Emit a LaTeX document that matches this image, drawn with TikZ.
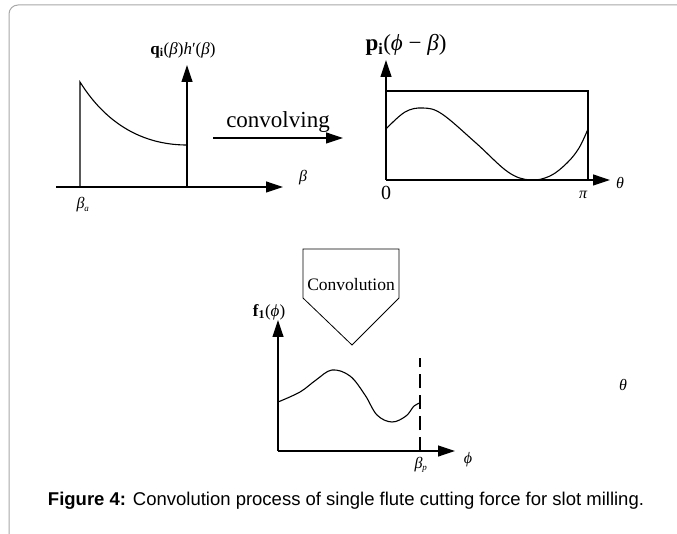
\documentclass[tikz,border=0pt]{standalone}
\usepackage{fontspec}
\setmainfont{Liberation Serif}
\newfontfamily\capfont{Liberation Sans}
\usetikzlibrary{arrows.meta,positioning,calc}
\definecolor{framegray}{HTML}{A8A8A8}

\tikzset{
  axisline/.style={line width=1.2pt,-{Triangle[length=17pt,width=11pt]}},
  curveline/.style={line width=1.1pt},
  symlabel/.style={font=\fontsize{16}{16}\selectfont\itshape,inner sep=0pt},
  funclabel/.style={font=\fontsize{17}{17}\selectfont,inner sep=0pt},
}
\newcommand{\gk}[1]{\textit{#1}}

\begin{document}
\begin{tikzpicture}[x=1pt,y=-1pt]
  \useasboundingbox (0,0) rectangle (677,534);
  % frame
  \begin{scope}
    \clip (0,0) rectangle (677,534);
    \draw[framegray,line width=1pt,rounded corners=9pt] (9,5) rectangle (700,560);
  \end{scope}

  % first panel: q_i h'
  \coordinate (qO) at (56,187);
  \coordinate (qX) at (283,187);
  \coordinate (qA) at (80,187);
  \coordinate (qB) at (187,187);
  \coordinate (qY) at (187,65);
  \draw[axisline] (qO) -- (qX);
  \draw[axisline] (qB) -- (qY);
  \draw[curveline] (qA) -- (80,82) .. controls (110,130) and (150,145) .. (187,145);
  \node[funclabel] (qlab) at (183,50) {\textbf{q}\textsubscript{\textbf{i}}(\gk{β})\gk{h}′(\gk{β})};
  \node[symlabel] (beta) at (303,178) {β};
  \node[symlabel] (betaa) at (83,205) {β\textsubscript{\fontsize{9}{9}\selectfont a}};

  % convolving arrow
  \coordinate (cvL) at (213,138);
  \coordinate (cvR) at (343,138);
  \draw[axisline] (cvL) -- (cvR);
  \node[font=\fontsize{23}{23}\selectfont,above=5pt of $(cvL)!0.5!(cvR)$,inner sep=0pt] (cvtext) {convolving};

  % second panel: p_i
  \coordinate (pO) at (386,180);
  \coordinate (pX) at (610,180);
  \coordinate (pY) at (386,60);
  \draw[line width=1.2pt] (386,91) -- (588,91) -- (588,180);
  \draw[axisline] (pO) -- (pX);
  \draw[axisline] (pO) -- (pY);
  \draw[curveline] plot[smooth,tension=0.6] coordinates
    {(386,129) (405,112) (423,108) (442,114) (476,143) (508,172) (530,180) (550,176) (567,163) (579,148) (588,129)};
  \node[font=\fontsize{23}{23}\selectfont,inner sep=0pt] (plab) at (406,45)
    {\textbf{p}\textsubscript{\textbf{i}}(\gk{ϕ} − \gk{β})};
  \node[font=\fontsize{20}{20}\selectfont,inner sep=0pt] (zero) at (386,193) {0};
  \node[symlabel] (pi) at (583,195) {π};
  \node[symlabel] (theta) at (620,183) {θ};

  % convolution block
  \draw[line width=0.8pt] (303,249) -- (399,249) -- (399,298) -- (352,345) -- (303,298) -- cycle;
  \node[font=\fontsize{17.5}{17.5}\selectfont,inner sep=0pt] (conv) at (351,285) {Convolution};

  % third panel: f_1
  \coordinate (fO) at (278,451);
  \coordinate (fX) at (455,451);
  \coordinate (fY) at (278,320);
  \coordinate (fP) at (420,451);
  \coordinate (fT) at (420,358);
  \draw[axisline] (fO) -- (fX);
  \draw[axisline] (fO) -- (fY);
  \draw[line width=1.1pt,dash pattern=on 14pt off 7pt] (fP) -- (fT);
  \draw[curveline] plot[smooth,tension=0.6] coordinates
    {(278,402) (300,392) (316,380) (332,370) (350,376) (365,395) (377,415) (392,422) (406,416) (414,406) (420,403)};
  \node[funclabel] (flab) at (269,312) {\textbf{f}\textsubscript{\textbf{1}}(\gk{ϕ})};
  \node[symlabel] (betap) at (421,465) {β\textsubscript{\fontsize{9}{9}\selectfont p}};
  \node[symlabel] (phi) at (468,460) {ϕ};
  \node[symlabel] (thetab) at (623,385) {θ};

  % caption
  \node[font=\capfont\fontsize{18.5}{18.5}\selectfont,inner sep=0pt] (cap) at (346,501)
    {\textbf{Figure 4:} Convolution process of single flute cutting force for slot milling.};
\end{tikzpicture}
\end{document}
